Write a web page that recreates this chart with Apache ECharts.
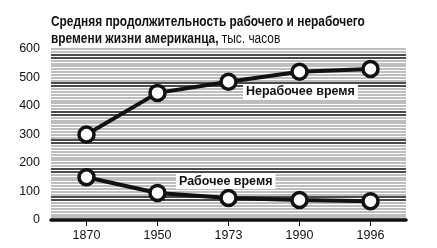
<!DOCTYPE html>
<html><head><meta charset="utf-8">
<script src="https://cdn.jsdelivr.net/npm/echarts@6/dist/echarts.min.js"></script>
<style>html,body{margin:0;padding:0;background:#fff}#c{width:437px;height:248px}</style>
</head><body><div id="c"></div>
<script>
const years = ['1870', '1950', '1973', '1990', '1996'];
const nonWork = [300, 446, 485, 520, 530];
const work = [150, 95, 77, 70, 66];
const yTicks = [0, 100, 200, 300, 400, 500, 600];
const titleLine1 = 'Средняя продолжительность рабочего и нерабочего';
const titleLine2Bold = 'времени жизни американца,';
const titleLine2Normal = ' тыс. часов';
const nonWorkLabel = 'Нерабочее время';
const workLabel = 'Рабочее время';

const FONT = '"Liberation Sans Narrow", "Arial Narrow", "Liberation Sans", Arial, sans-serif';
const G = '#a8a8a8', B = '#111';
const stripeColors = [G, G, G, G, G, G, G, B, B, G];

const chart = echarts.init(document.getElementById('c'), null, {renderer: 'canvas'});
const lineSeries = (name, data) => ({
  name, type: 'line', data, yAxisIndex: 0,
  symbol: 'circle', symbolSize: 15,
  itemStyle: {color: '#fff', borderColor: '#111', borderWidth: 3.5},
  lineStyle: {color: '#111', width: 4},
  z: 5, animation: false
});
chart.setOption({
  animation: false,
  backgroundColor: '#fff',
  grid: {left: 51, right: 31, top: 49, bottom: 28},
  xAxis: {
    type: 'category', data: years, boundaryGap: true,
    axisLine: {lineStyle: {color: '#111', width: 3.5}},
    axisTick: {show: true, alignWithLabel: true, length: 6, lineStyle: {color: '#111', width: 1}, inside: false},
    axisLabel: {fontFamily: FONT, fontSize: 12.5, color: '#111', margin: 9},
    splitLine: {show: false}, z: 4
  },
  yAxis: [{
    type: 'value', min: yTicks[0], max: yTicks[yTicks.length - 1], interval: 100,
    axisLine: {show: false}, axisTick: {show: false},
    axisLabel: {fontFamily: FONT, fontSize: 12.5, color: '#111', margin: 11},
    splitLine: {show: false}
  }, {
    type: 'value', min: 0, max: 600, interval: 10, position: 'left',
    axisLine: {show: false}, axisTick: {show: false}, axisLabel: {show: false},
    splitLine: {show: true, lineStyle: {color: stripeColors, width: 1.6}}
  }],
  graphic: [
    {type: 'text', x: 51, y: 14, scaleX: 0.85, z: 10,
      style: {
        text: '{b|' + titleLine1 + '}\n{b|' + titleLine2Bold + '}{n|' + titleLine2Normal + '}',
        rich: {
          b: {font: 'bold 14px ' + FONT, fill: '#111', lineHeight: 17},
          n: {font: 'normal 14px ' + FONT, fill: '#111', lineHeight: 17}
        }
      }},
    {type: 'text', left: 243, top: 84, z: 10,
      style: {text: nonWorkLabel, font: 'bold 12.5px ' + FONT, fill: '#111',
        backgroundColor: '#fff', padding: [1, 3, 1, 3]}},
    {type: 'text', left: 176, top: 174, z: 10,
      style: {text: workLabel, font: 'bold 12.5px ' + FONT, fill: '#111',
        backgroundColor: '#fff', padding: [1, 3, 1, 3]}}
  ],
  series: [lineSeries(nonWorkLabel, nonWork), lineSeries(workLabel, work)]
});
</script></body></html>
